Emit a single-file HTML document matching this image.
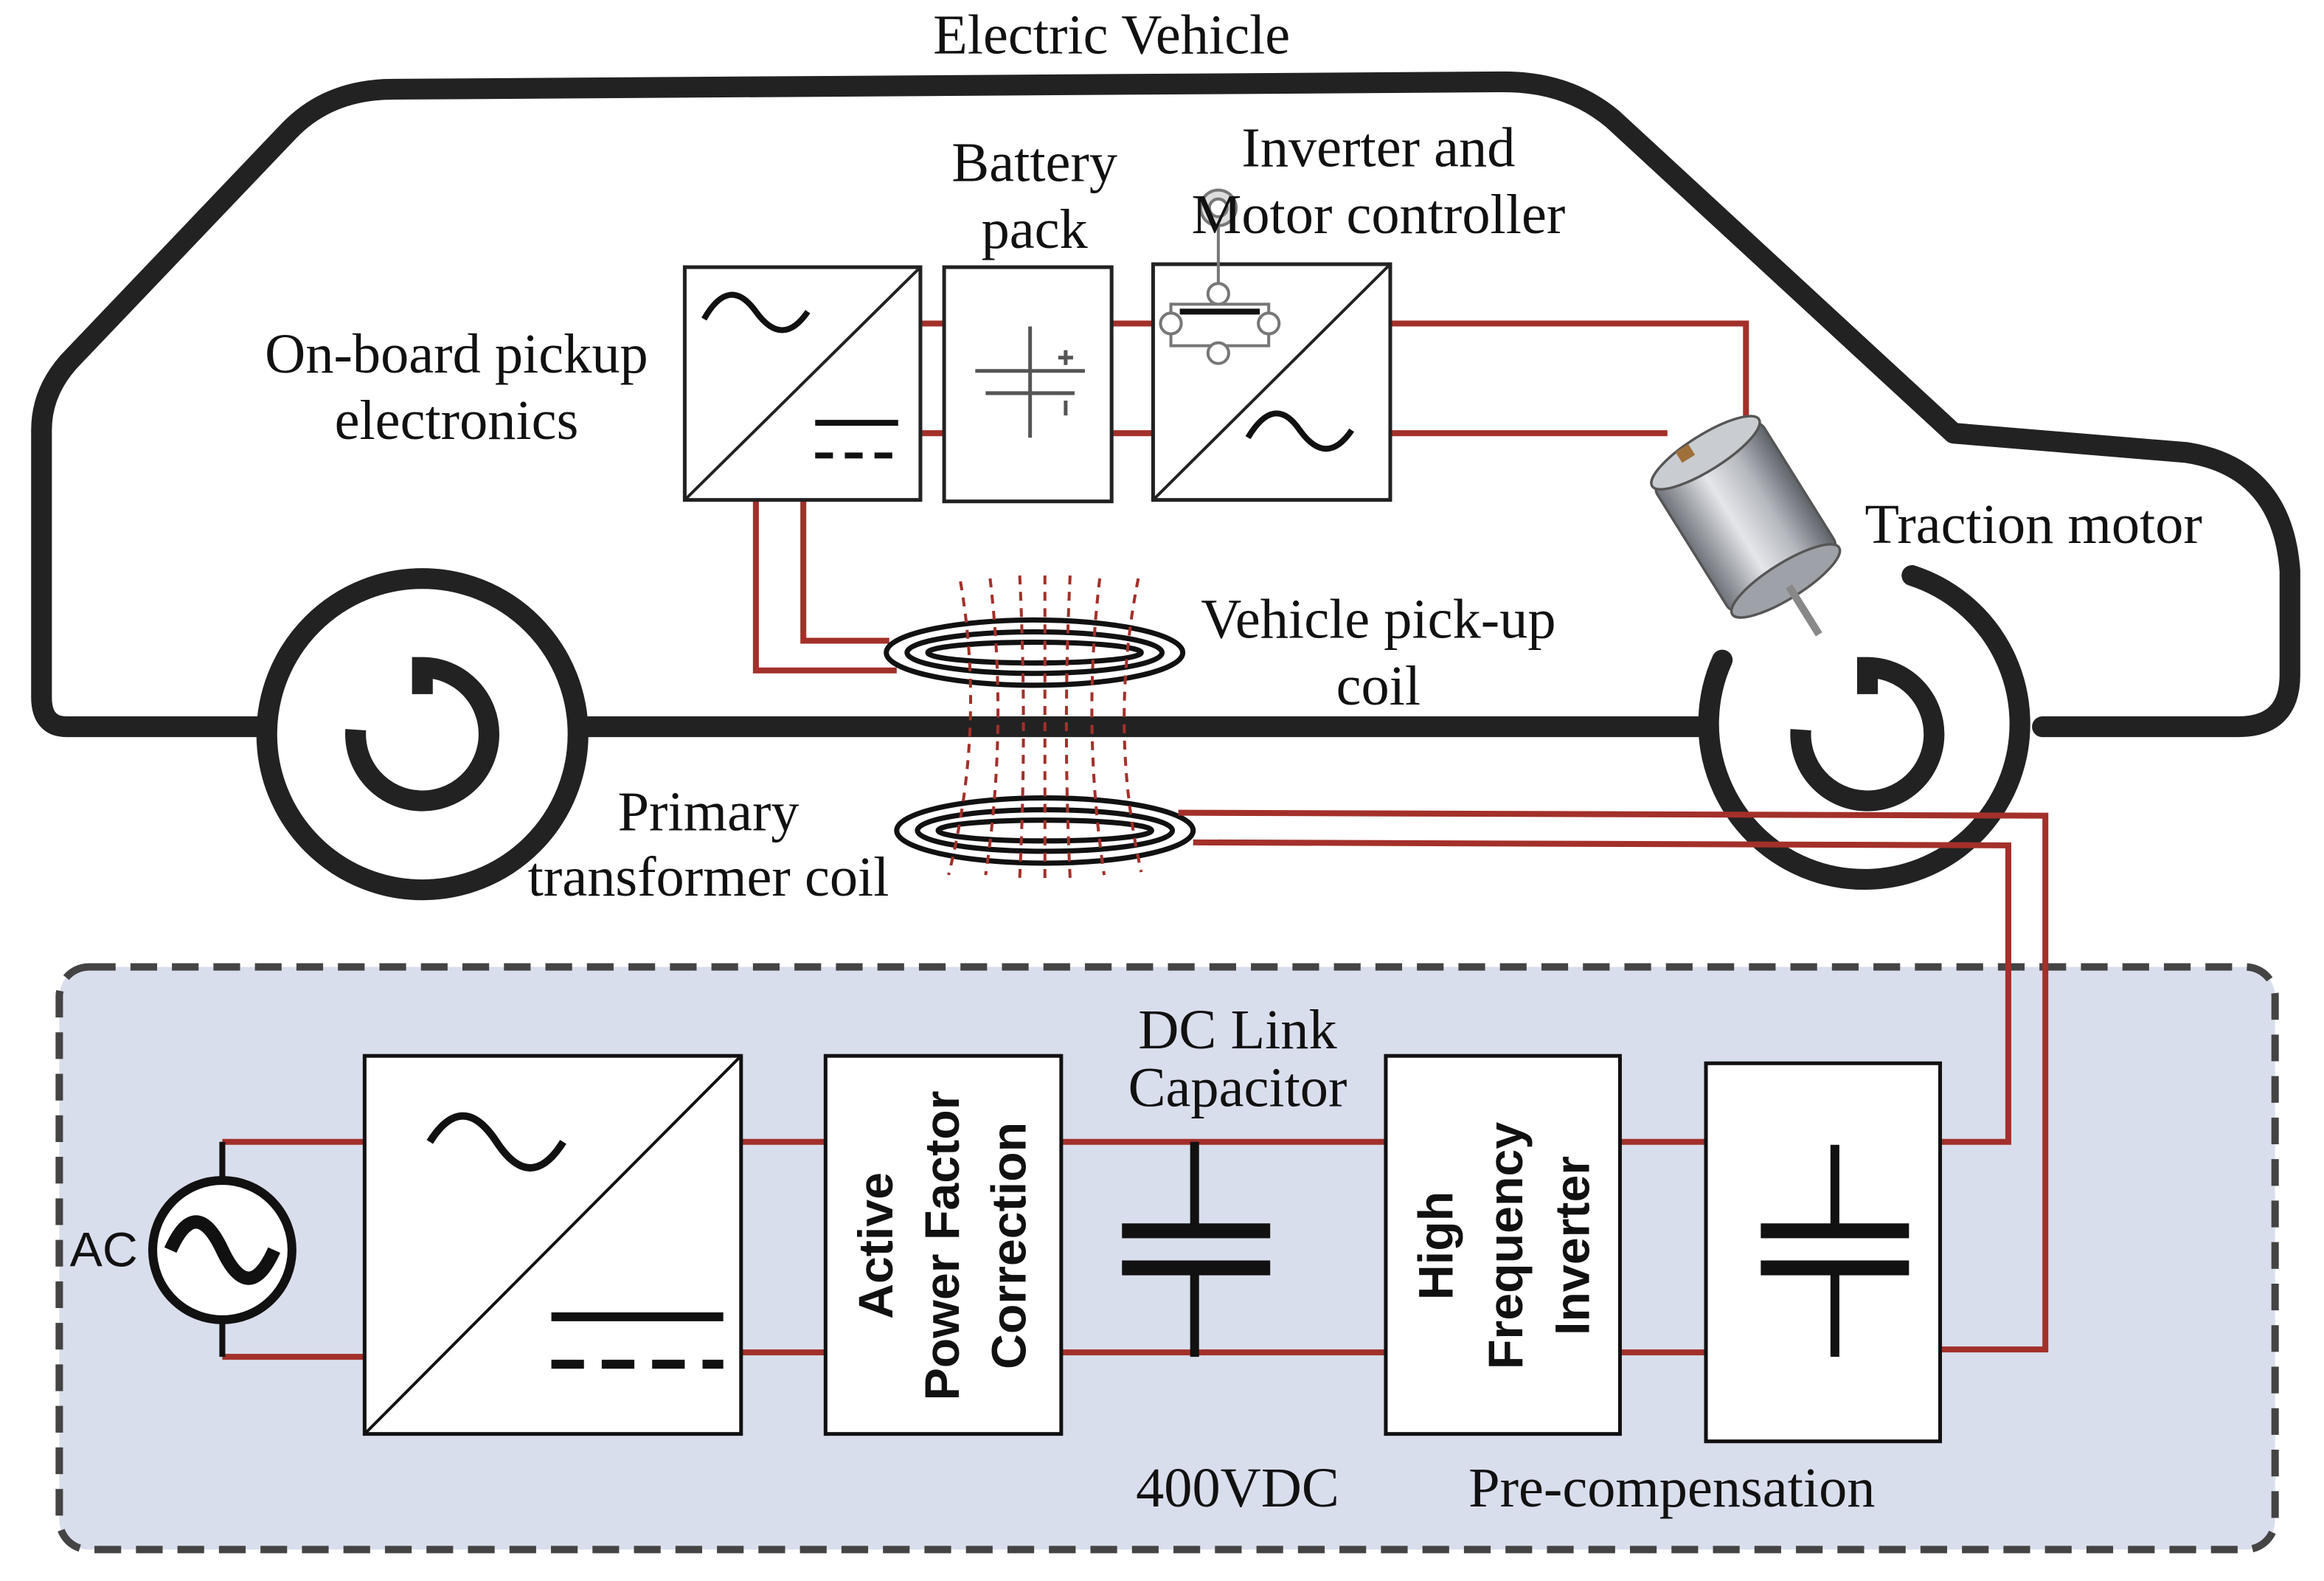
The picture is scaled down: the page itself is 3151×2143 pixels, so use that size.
<!DOCTYPE html>
<html><head><meta charset="utf-8"><style>
html,body{margin:0;padding:0;background:#fff;}
svg{display:block;}
text{font-family:"Liberation Serif",serif;font-size:38px;fill:#111;}
.s{font-family:"Liberation Sans","DejaVu Sans",sans-serif;font-weight:bold;font-size:33px;}
</style></head><body>
<svg width="3151" height="2143" viewBox="0 0 1568 1066" xmlns="http://www.w3.org/2000/svg">
<defs>
<linearGradient id="mg" x1="0" y1="0" x2="1" y2="0">
<stop offset="0" stop-color="#6d7178"/><stop offset="0.4" stop-color="#e4e6ea"/><stop offset="0.7" stop-color="#b5b8be"/><stop offset="1" stop-color="#5d6168"/>
</linearGradient>
</defs>
<rect width="1568" height="1066" fill="#fff"/>
<text x="750" y="36" text-anchor="middle">Electric Vehicle</text>
<g fill="none" stroke="#222" stroke-width="14" stroke-linecap="round" stroke-linejoin="round">
<path d="M180 490 L45 490 Q28 490 28 470 L28 290 Q28 262 50 240 L195 88 Q222 60 265 60 L1015 55 Q1058 55 1088 80 L1318 292 L1475 305 Q1540 315 1545 385 L1545 455 Q1545 490 1510 490 L1378 490"/>
<path d="M395 490 L1145 490"/>
<circle cx="285" cy="495" r="105"/>
<path d="M1290 388 A105 105 0 1 1 1162 445"/>
</g>
<g fill="none" stroke="#222" stroke-width="14">
<path d="M240 492 A45 45 0 1 0 285 450 L285 468"/>
<path d="M1215 492 A45 45 0 1 0 1260 450 L1260 468"/>
</g>
<g fill="none" stroke="#a3302a" stroke-width="4">
<path d="M621 218 H637 M750 218 H778 M621 292 H637 M750 292 H778"/>
<path d="M938 218 H1178 V292"/>
<path d="M938 292 H1125"/>
<path d="M510 337 V452 H605"/>
<path d="M542 337 V432 H600"/>
</g>
<g fill="#fff" stroke="#222" stroke-width="2.5">
<rect x="462" y="180" width="159" height="157"/>
<rect x="637" y="180" width="113" height="158"/>
<rect x="778" y="178" width="160" height="159"/>
</g>
<g fill="none" stroke="#222" stroke-width="2">
<path d="M462 337 L621 180"/><path d="M778 337 L938 178"/>
</g>
<g fill="none" stroke="#111" stroke-width="4">
<path d="M475 215 Q492 185 510 210 Q528 235 545 210"/>
<path d="M842 295 Q860 265 877 290 Q895 315 912 290"/>
<path d="M550 285 H606"/><path d="M550 307 H606" stroke-dasharray="12 8"/>
</g>
<g fill="none" stroke="#555" stroke-width="2.5">
<path d="M695 220 V295 M658 250 H732 M665 265 H725"/>
<path d="M714 241 H724 M719 236 V246 M719 270 V280"/>
</g>
<g fill="#fff" stroke="#777" stroke-width="2">
<circle cx="822" cy="140" r="12" fill="#ddd"/><circle cx="822" cy="140" r="6"/>
<line x1="822" y1="152" x2="822" y2="198"/>
<rect x="790" y="205" width="66" height="28" fill="none"/>
<circle cx="822" cy="198" r="7"/><circle cx="790" cy="218" r="7"/><circle cx="856" cy="218" r="7"/><circle cx="822" cy="238" r="7"/>
<path d="M796 210 H850" stroke="#111" stroke-width="4"/>
</g>
<g fill="none" stroke="#111" stroke-width="3.5">
<ellipse cx="698" cy="440" rx="100" ry="22"/>
<ellipse cx="698" cy="440" rx="86" ry="14"/>
<ellipse cx="698" cy="440" rx="72" ry="7"/>
<ellipse cx="705" cy="560" rx="100" ry="22"/>
<ellipse cx="705" cy="560" rx="86" ry="14"/>
<ellipse cx="705" cy="560" rx="72" ry="7"/>
</g>
<g fill="none" stroke="#a3302a" stroke-width="2" stroke-dasharray="6 5">
<path d="M648 392 Q665 490 640 590"/>
<path d="M668 390 Q680 490 665 590"/>
<path d="M688 388 Q693 490 688 592"/>
<path d="M705 388 V595"/>
<path d="M722 388 Q717 490 722 592"/>
<path d="M742 390 Q730 490 745 590"/>
<path d="M768 390 Q748 490 770 588"/>
</g>
<g transform="translate(1180 352) rotate(-32) scale(0.85)">
<rect x="-50" y="-65" width="100" height="120" rx="8" fill="url(#mg)" stroke="#555" stroke-width="2"/>
<ellipse cx="0" cy="-65" rx="50" ry="14" fill="#c9ccd1" stroke="#555" stroke-width="2"/>
<ellipse cx="0" cy="55" rx="50" ry="14" fill="#9ea2a8" stroke="#555" stroke-width="2"/>
<rect x="-3" y="60" width="6" height="45" fill="#888"/>
<rect x="-20" y="-78" width="12" height="10" fill="#a0703a"/>
</g>
<text x="698" y="122" text-anchor="middle">Battery</text>
<text x="698" y="167" text-anchor="middle">pack</text>
<text x="930" y="112" text-anchor="middle">Inverter and</text>
<text x="930" y="157" text-anchor="middle">Motor controller</text>
<text x="308" y="251" text-anchor="middle">On-board pickup</text>
<text x="308" y="296" text-anchor="middle">electronics</text>
<text x="930" y="430" text-anchor="middle">Vehicle pick-up</text>
<text x="930" y="475" text-anchor="middle">coil</text>
<text x="478" y="560" text-anchor="middle">Primary</text>
<text x="478" y="604" text-anchor="middle">transformer coil</text>
<text x="1372" y="366" text-anchor="middle">Traction motor</text>
<rect x="40" y="652" width="1495" height="393" rx="20" fill="#d9deec" stroke="#444" stroke-width="5" stroke-dasharray="18 10"/>
<g fill="none" stroke="#a3302a" stroke-width="4">
<path d="M795 548 L1380 550 V910 H1310"/>
<path d="M805 568 L1355 570 V770 H1310"/>
<path d="M150 770 H246 M150 915 H246"/>
<path d="M500 770 H557 M500 912 H557"/>
<path d="M716 770 H935 M716 912 H935"/>
<path d="M1093 770 H1151 M1093 912 H1151"/>
</g>
<g fill="none" stroke="#111" stroke-width="4">
<path d="M150 770 V796 M150 890 V915"/>
</g>
<circle cx="150" cy="843" r="47" fill="#fff" stroke="#111" stroke-width="6"/>
<path d="M115 843 Q132 805 150 843 Q168 881 185 843" fill="none" stroke="#111" stroke-width="9"/>
<text x="70" y="854" text-anchor="middle" class="s" style="font-weight:normal">AC</text>
<g fill="#fff" stroke="#111" stroke-width="2.5">
<rect x="246" y="712" width="254" height="255"/>
<rect x="557" y="712" width="159" height="255"/>
<rect x="935" y="712" width="158" height="255"/>
<rect x="1151" y="717" width="158" height="255"/>
</g>
<path d="M246 967 L500 712" stroke="#111" stroke-width="2"/>
<path d="M290 770 Q312 735 335 770 Q358 805 380 770" fill="none" stroke="#111" stroke-width="5"/>
<path d="M372 888 H488" stroke="#111" stroke-width="6"/>
<path d="M372 920 H488" stroke="#111" stroke-width="6" stroke-dasharray="22 12"/>
<g stroke="#111" stroke-width="6" fill="none">
<path d="M806 770 V830 M806 855 V915"/>
<path d="M1238 772 V830 M1238 855 V915"/>
</g>
<g stroke="#111" stroke-width="10">
<path d="M757 830 H857 M757 855 H857"/>
<path d="M1188 830 H1288 M1188 855 H1288"/>
</g>
<g text-anchor="middle">
<text class="s" transform="translate(602 840) rotate(-90)">Active</text>
<text class="s" transform="translate(647 840) rotate(-90)">Power Factor</text>
<text class="s" transform="translate(692 840) rotate(-90)">Correction</text>
<text class="s" transform="translate(980 840) rotate(-90)">High</text>
<text class="s" transform="translate(1027 840) rotate(-90)">Frequency</text>
<text class="s" transform="translate(1072 840) rotate(-90)">Inverter</text>
</g>
<text x="835" y="707" text-anchor="middle">DC Link</text>
<text x="835" y="746" text-anchor="middle">Capacitor</text>
<text x="835" y="1016" text-anchor="middle">400VDC</text>
<text x="1128" y="1016" text-anchor="middle">Pre-compensation</text>
</svg>
</body></html>
